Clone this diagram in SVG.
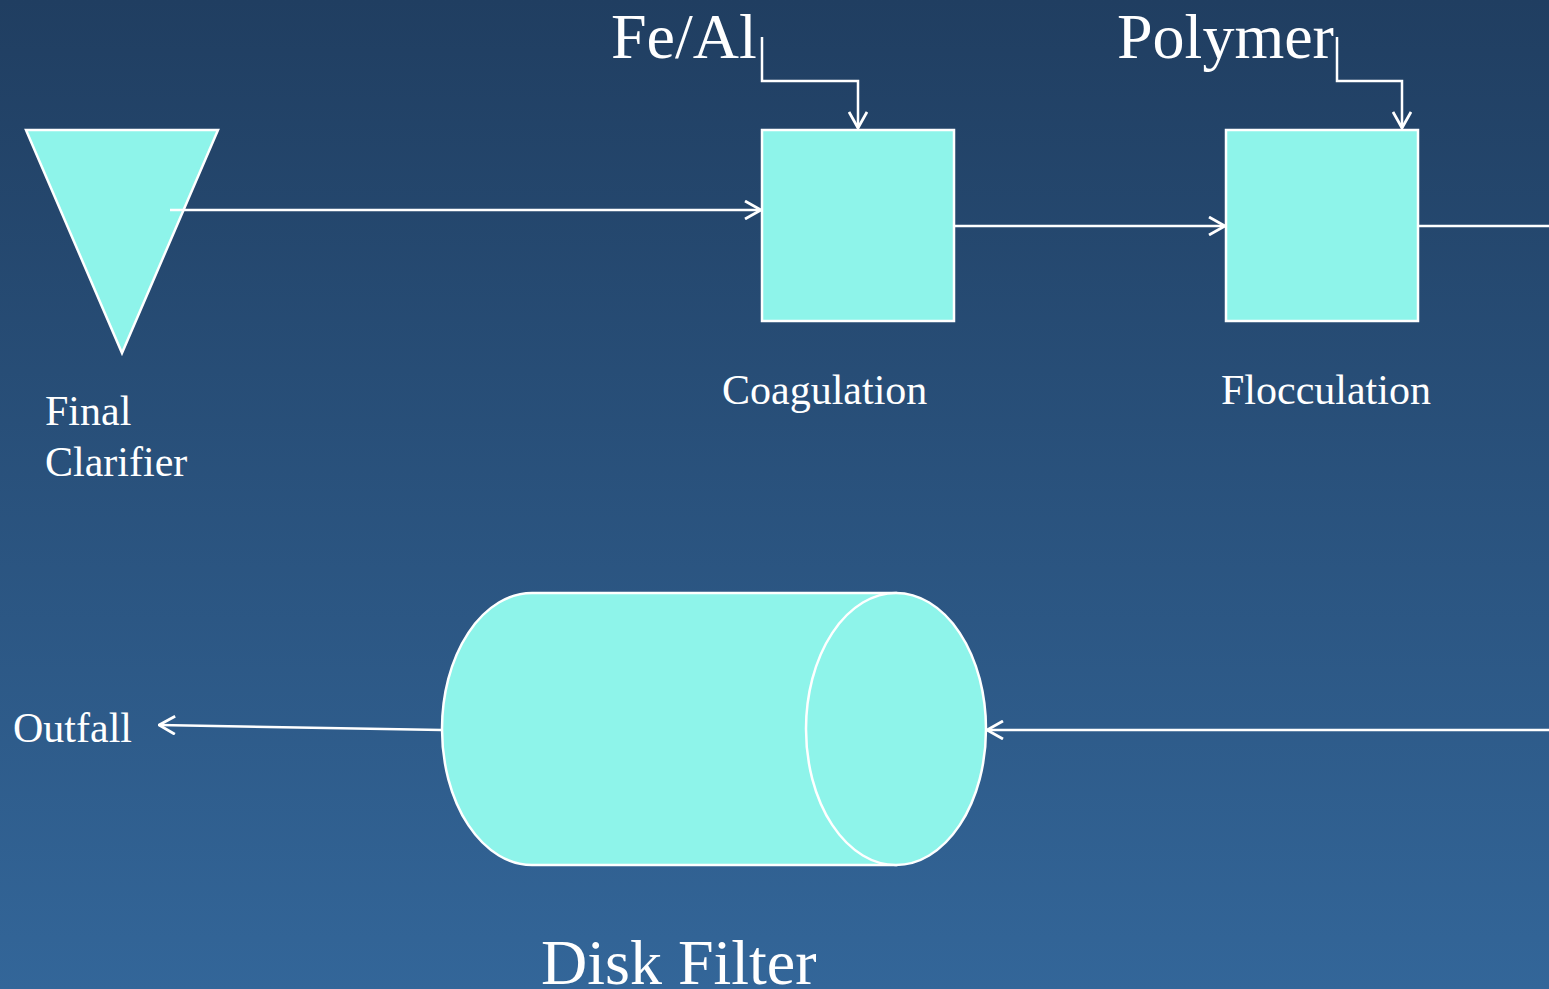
<svg xmlns="http://www.w3.org/2000/svg" width="1549" height="989" viewBox="0 0 1549 989">
<defs>
<linearGradient id="bg" x1="0" y1="0" x2="0" y2="1">
<stop offset="0" stop-color="#203e61"/>
<stop offset="1" stop-color="#336699"/>
</linearGradient>
<marker id="arr" viewBox="0 0 18 20" refX="17" refY="10" markerWidth="18" markerHeight="20" markerUnits="userSpaceOnUse" orient="auto">
<path d="M1,1 L17,10 L1,19" fill="none" stroke="#ffffff" stroke-width="2.8"/>
</marker>
<style>
.shape{fill:#8ef4ea;stroke:#ffffff;stroke-width:2.5}
.conn{fill:none;stroke:#ffffff;stroke-width:2.5}
.lbl{font-family:"Liberation Serif","Times New Roman",serif;fill:#ffffff}
.small{font-size:42px}
.big{font-size:64px}
</style>
</defs>
<rect x="0" y="0" width="1549" height="989" fill="url(#bg)"/>
<g id="final-clarifier">
<polygon class="shape" points="26,130 218,130 122,353"/>
<text class="lbl small" x="45" y="425">Final</text>
<text class="lbl small" x="45" y="476">Clarifier</text>
</g>
<g id="coagulation">
<rect class="shape" x="762" y="130" width="192" height="191"/>
<text class="lbl small" x="722" y="404">Coagulation</text>
</g>
<g id="flocculation">
<rect class="shape" x="1226" y="130" width="192" height="191"/>
<text class="lbl small" x="1221" y="404">Flocculation</text>
</g>
<g id="fe-al">
<text class="lbl big" x="611" y="58">Fe/Al</text>
</g>
<g id="polymer">
<text class="lbl big" x="1117" y="58">Polymer</text>
</g>
<g id="disk-filter">
<path class="shape" d="M532,593 H896 V865 H532 A90,136 0 0 1 532,593 Z"/>
<ellipse class="shape" cx="896" cy="729" rx="90" ry="136"/>
<text class="lbl big" x="541" y="984">Disk Filter</text>
</g>
<g id="outfall">
<text class="lbl small" x="13" y="742">Outfall</text>
</g>
<g id="connectors">
<line class="conn" x1="170" y1="210" x2="761" y2="210" marker-end="url(#arr)"/>
<polyline class="conn" points="762,37 762,81 858,81 858,128" marker-end="url(#arr)"/>
<polyline class="conn" points="1337,37 1337,81 1402,81 1402,128" marker-end="url(#arr)"/>
<line class="conn" x1="954" y1="226" x2="1225" y2="226" marker-end="url(#arr)"/>
<line class="conn" x1="1418" y1="226" x2="1549" y2="226"/>
<line class="conn" x1="1549" y1="730" x2="987" y2="730" marker-end="url(#arr)"/>
<line class="conn" x1="442" y1="730" x2="159" y2="725" marker-end="url(#arr)"/>
</g>
</svg>
